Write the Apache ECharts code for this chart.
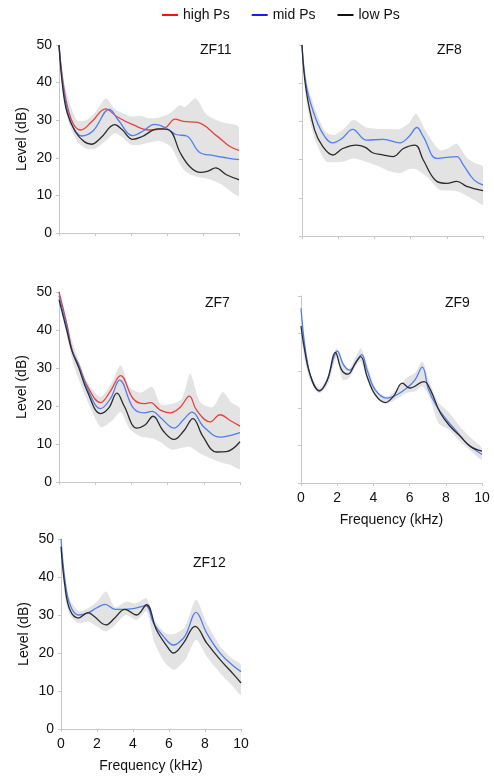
<!DOCTYPE html>
<html>
<head>
<meta charset="utf-8">
<script src="https://cdn.jsdelivr.net/npm/echarts@6/dist/echarts.min.js"></script>
<style>
html,body{margin:0;padding:0;background:#fff;}
#chart{width:494px;height:780px;}
</style>
</head>
<body>
<div id="chart"></div>
<script>
// ---------- DATA ----------
const seriesNames = ['high Ps', 'mid Ps', 'low Ps'];
const panelTitles = ['ZF11', 'ZF8', 'ZF7', 'ZF9', 'ZF12'];
const xTicks = [0, 2, 4, 6, 8, 10];
const yTicks = [0, 10, 20, 30, 40, 50];

// ZF11
const zf11High = [[0,50],[0.2,41],[0.45,34],[0.8,29],[1.2,27.4],[1.8,29.5],[2.6,33],[3.2,31],[4.1,28.8],[5.0,27.4],[5.9,28],[6.45,30.3],[6.9,29.7],[7.7,29.4],[8.8,25.7],[9.5,23],[10,22]];
const zf11Mid = [[0,50],[0.2,40],[0.45,33],[0.8,28],[1.25,25.8],[1.9,27.2],[2.8,32.9],[3.3,30],[4.1,25.9],[4.7,27.2],[5.3,28.9],[6.0,27.8],[6.5,26.2],[7.1,25.8],[7.8,21.5],[8.6,20.6],[9.3,20],[10,19.5]];
const zf11Low = [[0,50],[0.2,39],[0.45,32],[0.9,27],[1.4,24.3],[1.8,23.6],[2.3,25.2],[3.1,28.8],[3.5,27.5],[4.1,24.9],[4.6,25.6],[5.5,27.7],[6.1,27.4],[6.75,21.2],[7.3,17.5],[7.85,16.1],[8.3,16.5],[8.7,17.3],[9.3,15.5],[10,14.2]];
const zf11BandFreq = [0,0.25,0.5,1,1.5,2,2.6,3.1,3.5,4,4.5,5,5.6,6.2,6.7,7,7.6,8.2,9,10];
const zf11BandHi = [50,41,36,30,30,32,35.8,33,32,31,31.2,30.5,30.8,32,34,33.5,35.8,31.5,29.5,28];
const zf11BandLo = [50,37,30,24.5,22.5,22.5,24.5,26.5,25.5,23.5,23.5,24,24.5,23,18.5,16.5,15,14.5,13,10];

// ZF8
const zf8Mid = [[0,50],[0.22,39.8],[0.6,32.9],[1.15,26.8],[1.7,24.4],[2.2,25.5],[2.8,27.9],[3.55,25.1],[4.5,25.3],[5.4,24.4],[5.9,26],[6.35,28.4],[6.7,26],[7.45,20.3],[8.0,20.6],[8.55,20.8],[8.9,18.7],[9.5,14.7],[10,13.3]];
const zf8Low = [[0,50],[0.22,38.5],[0.7,27.7],[1.15,23.4],[1.7,21.2],[2.25,22.9],[3.0,23.8],[3.5,23.2],[3.9,21.8],[4.5,21.2],[5.05,20.8],[5.6,22.9],[6.25,23.8],[6.7,19.9],[7.45,14.3],[8.0,13.8],[8.55,14.3],[9.1,13],[10,11.9]];
const zf8BandFreq = [0,0.25,0.6,1,1.35,1.8,2.3,2.85,3.5,4.1,4.8,5.4,5.9,6.3,6.9,7.6,8.1,8.55,9.1,9.6,10];
const zf8BandHi = [50,41,35,30,27,26.5,28,30.4,28.5,28.1,28,28,29.5,32,27,22.5,23,24.2,20.5,19,18.2];
const zf8BandLo = [50,35,27,22,19.5,19.3,19.5,20.3,19.5,18.5,17,16.5,17.5,17.5,15.5,12.1,11.9,11.7,10.5,9.2,8.2];

// ZF7
const zf7High = [[0,50],[0.45,41.2],[0.73,34.6],[1.1,30.7],[1.55,25.4],[2.3,20.9],[2.85,24],[3.4,28],[4.1,21.9],[4.7,20.6],[5.05,20.9],[5.6,18.9],[6.15,18.2],[6.7,19.7],[7.2,22.6],[7.6,18.9],[8.35,15.8],[8.9,17.7],[9.45,16.2],[10,14.7]];
const zf7Mid = [[0,49],[0.45,40.4],[0.73,34.5],[1.1,30.5],[1.55,24.8],[2.3,19.3],[2.85,22],[3.35,26.8],[4.1,19.5],[4.7,18.2],[5.15,18.6],[5.6,17],[6.35,14.2],[6.9,16.5],[7.35,18.4],[8.0,14.5],[8.9,11.8],[9.5,12.3],[10,13]];
const zf7Low = [[0,48],[0.45,39.5],[0.73,34.3],[1.1,30],[1.55,24],[2.3,18],[2.75,19.5],[3.2,23.4],[3.6,20],[4.3,14.2],[4.75,15],[5.2,17.3],[5.75,13.5],[6.35,11.2],[6.9,13.5],[7.4,16.7],[7.95,12],[8.7,7.9],[9.25,8],[10,10.6]];
const zf7BandFreq = [0,0.25,0.5,0.8,1.1,1.6,2.3,2.9,3.4,3.9,4.5,5.15,5.6,6.2,6.8,7.25,7.8,8.5,9.05,9.5,10];
const zf7BandHi = [50,45,41,36,32,26,22.4,26,30.7,25,23.5,25,20.5,20.5,22,28.5,21,19.7,23.7,21,19.3];
const zf7BandLo = [50,43,37,31,27,21,14.5,16,18.4,14,12,11.5,10.5,8.5,9,9.2,7.5,6,5,4.5,3.5];

// ZF9
const zf9Mid = [[0,46.7],[0.15,39.1],[0.33,33],[0.6,27.6],[1.0,24.5],[1.45,27.6],[1.8,33.4],[2.0,35.3],[2.35,31.6],[2.7,30.2],[3.1,32.9],[3.35,34.3],[3.65,30.2],[4.1,24.9],[4.75,22.7],[5.3,23.6],[5.85,25.4],[6.3,27.6],[6.7,31],[7.05,24.9],[7.5,20.5],[8.05,16.9],[8.6,13.8],[9.15,10.7],[10,7.6]];
const zf9Low = [[0,42],[0.15,37],[0.5,29],[1.0,24.7],[1.45,27.5],[1.9,34.9],[2.25,30.2],[2.6,29.1],[3.0,32],[3.3,33.8],[3.65,28.5],[4.1,23.6],[4.65,21.5],[5.1,23.1],[5.6,26.7],[6.0,25.4],[6.8,27.1],[7.15,24.9],[7.7,18.7],[8.25,15.1],[8.8,12.5],[9.35,9.8],[10,8.5]];
const zf9BandFreq = [0,0.2,0.5,1,1.5,1.95,2.3,2.65,3,3.3,3.7,4.1,4.7,5.3,5.8,6.3,6.7,7.1,7.6,8.2,8.8,9.4,10];
const zf9BandHi = [46.7,38,29.5,25.5,28.5,36,32.5,30.5,33.5,36,31,25.5,23,25,28,29.5,32.5,27,21.5,18.7,15,12,9.3];
const zf9BandLo = [40,33,27.5,24,26.5,33.5,27.6,28,31,32.5,27,23,21.2,22.5,24,24.5,25.8,23,16,14.2,11,8.5,6.2];

// ZF12
const zf12Mid = [[0,50],[0.22,39.2],[0.5,32.7],[0.96,30],[1.43,30.4],[2.0,31.9],[2.45,32.8],[3.0,31.5],[3.47,31.5],[4.0,31.7],[4.7,32.4],[5.15,27.8],[5.7,24.3],[6.25,22.1],[6.8,23.9],[7.0,25.5],[7.5,30.7],[8.1,25.2],[8.85,19.9],[9.6,16.5],[10,15.1]];
const zf12Low = [[0,48],[0.22,37.5],[0.5,31.3],[0.96,29.2],[1.5,30.6],[1.8,29.8],[2.5,27.4],[3.0,29.3],[3.55,31.5],[4.2,30],[4.75,32.7],[5.3,26.1],[5.9,21.7],[6.25,20],[6.8,22.6],[7.45,27],[8.1,22.6],[8.85,18.2],[9.6,14.3],[10,12.1]];
const zf12BandFreq = [0,0.22,0.5,1,1.5,2,2.5,3,3.6,4.2,4.75,5.2,5.8,6.3,6.9,7.5,8.1,8.85,9.5,10];
const zf12BandHi = [50,40,34,31,31.8,33.5,36.2,32,33.5,33.1,34.4,28.7,25.2,25,27,34,27.8,21.7,18.5,16.9];
const zf12BandLo = [50,35,30,27.8,28.3,27,25.7,27.4,30,28.7,30.9,22.6,17.3,15.6,18.2,23.5,19.1,14.7,11.5,9];

// ---------- BUILD ----------
const FONT = "'Liberation Sans', Arial, sans-serif";
const colors = {'high Ps': '#e8403c', 'mid Ps': '#4d7ff0', 'low Ps': '#2b2b2b'};
const legendColors = {'high Ps': '#ff1010', 'mid Ps': '#1a1aff', 'low Ps': '#111111'};

const panels = [
  {title: panelTitles[0], lines: {'high Ps': zf11High, 'mid Ps': zf11Mid, 'low Ps': zf11Low}, bf: zf11BandFreq, hi: zf11BandHi, lo: zf11BandLo,
   grid: {left: 59, top: 45, width: 180, height: 188}, yLab: true, xLab: false, tpos: [200, 43]},
  {title: panelTitles[1], lines: {'mid Ps': zf8Mid, 'low Ps': zf8Low}, bf: zf8BandFreq, hi: zf8BandHi, lo: zf8BandLo,
   grid: {left: 302, top: 45, width: 181, height: 191}, yLab: false, xLab: false, tpos: [437, 43]},
  {title: panelTitles[2], lines: {'high Ps': zf7High, 'mid Ps': zf7Mid, 'low Ps': zf7Low}, bf: zf7BandFreq, hi: zf7BandHi, lo: zf7BandLo,
   grid: {left: 59, top: 292, width: 181, height: 190}, yLab: true, xLab: false, tpos: [205, 296]},
  {title: panelTitles[3], lines: {'mid Ps': zf9Mid, 'low Ps': zf9Low}, bf: zf9BandFreq, hi: zf9BandHi, lo: zf9BandLo,
   grid: {left: 301, top: 296, width: 181, height: 187}, yLab: false, xLab: true, tpos: [445, 296]},
  {title: panelTitles[4], lines: {'mid Ps': zf12Mid, 'low Ps': zf12Low}, bf: zf12BandFreq, hi: zf12BandHi, lo: zf12BandLo,
   grid: {left: 61, top: 539, width: 180, height: 190}, yLab: true, xLab: true, tpos: [193, 556]}
];

const grids = [], xAxes = [], yAxes = [], series = [], titles = [];
panels.forEach((p, i) => {
  grids.push(Object.assign({containLabel: false}, p.grid));
  xAxes.push({
    type: 'value', gridIndex: i, min: xTicks[0], max: xTicks[xTicks.length - 1], interval: xTicks[1] - xTicks[0],
    axisLine: {show: true, lineStyle: {color: '#c8c8c8', width: 1}},
    axisTick: {show: true, length: 3, lineStyle: {color: '#c8c8c8'}},
    axisLabel: {show: p.xLab, color: '#111', fontSize: 14, fontFamily: FONT, margin: 8},
    splitLine: {show: false},
    name: p.xLab ? 'Frequency (kHz)' : '', nameLocation: 'middle', nameGap: 30,
    nameTextStyle: {color: '#111', fontSize: 14, fontFamily: FONT}
  });
  yAxes.push({
    type: 'value', gridIndex: i, min: yTicks[0], max: yTicks[yTicks.length - 1], interval: yTicks[1] - yTicks[0],
    axisLine: {show: true, lineStyle: {color: '#c8c8c8', width: 1}},
    axisTick: {show: true, length: 3, lineStyle: {color: '#c8c8c8'}},
    axisLabel: {show: p.yLab, color: '#111', fontSize: 14, fontFamily: FONT, margin: 7},
    splitLine: {show: false},
    name: p.yLab ? 'Level (dB)' : '', nameLocation: 'middle', nameGap: 30, nameRotate: 90,
    nameTextStyle: {color: '#111', fontSize: 14, fontFamily: FONT}
  });
  titles.push({text: p.title, left: p.tpos[0], top: p.tpos[1], padding: 0,
    textStyle: {fontSize: 14, fontWeight: 'normal', color: '#111', fontFamily: FONT}});
  // variability band: polygon from upper and lower bounds, placed through the axes' scales
  const bf = p.bf, hi = p.hi, lo = p.lo;
  series.push({
    type: 'custom', name: 'band' + i, xAxisIndex: i, yAxisIndex: i, silent: true, z: 1, clip: true,
    data: [[bf[0], lo[0]]],
    encode: {x: 0, y: 1},
    renderItem: function (params, api) {
      const up = bf.map((f, k) => api.coord([f, hi[k]]));
      const dn = bf.map((f, k) => api.coord([f, lo[k]])).reverse();
      return {
        type: 'polygon',
        shape: {points: up.concat(dn), smooth: 0.25},
        style: {fill: '#e3e3e3', stroke: null}
      };
    }
  });
  Object.keys(p.lines).forEach(nm => {
    series.push({
      type: 'line', name: nm, xAxisIndex: i, yAxisIndex: i, data: p.lines[nm],
      smooth: 0.4, symbol: 'none', lineStyle: {color: colors[nm], width: 1.3},
      itemStyle: {color: colors[nm]}, z: 3
    });
  });
});

const chart = echarts.init(document.getElementById('chart'), null, {renderer: 'canvas'});
chart.setOption({
  animation: false,
  backgroundColor: '#fff',
  title: titles,
  legend: {
    top: 3, left: 157, itemWidth: 16, itemHeight: 2, itemGap: 22, icon: 'rect',
    textStyle: {fontSize: 14, color: '#111', fontFamily: FONT},
    data: seriesNames.map(n => ({name: n, itemStyle: {color: legendColors[n]}}))
  },
  grid: grids,
  xAxis: xAxes,
  yAxis: yAxes,
  series: series
});
</script>
</body>
</html>
